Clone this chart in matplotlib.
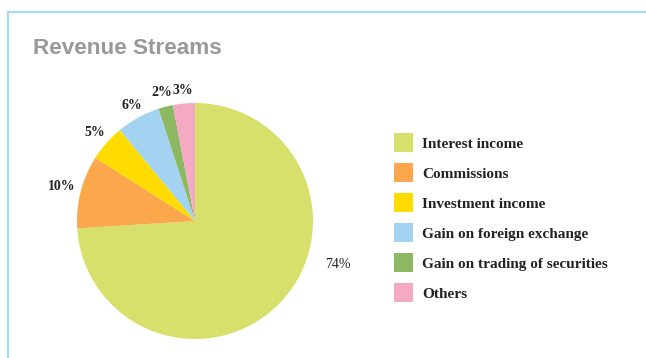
import numpy as np
import matplotlib.pyplot as plt
from matplotlib.lines import Line2D
from matplotlib.patches import Patch

# Revenue streams share (%)
streams = ['Interest income', 'Commissions', 'Investment income',
           'Gain on foreign exchange', 'Gain on trading of securities', 'Others']
shares = [74, 10, 5, 6, 2, 3]
colors = ['#D6E06A', '#FAA84B', '#FFDC00', '#A3D3F0', '#8BB861', '#F5AAC4']

fig = plt.figure(figsize=(6.46, 3.58), dpi=100)
W, H = 646, 358

# pie axes: square box, radius 1 in data units
L = 1.5
R_px = 118
S = 2 * L * R_px
cx, cy = 195, 221
ax = fig.add_axes([(cx - S / 2) / W, (H - cy - S / 2) / H, S / W, S / H])
wedges, _ = ax.pie(shares, colors=colors, startangle=90, counterclock=False,
                   radius=1, wedgeprops=dict(linewidth=0))
ax.set_xlim(-L, L); ax.set_ylim(-L, L)
ax.set_aspect('equal')
ax.axis('off')

# percentage labels outside the slices (big slice label sits off to the right)
label_r = [1.27, 1.17, 1.13, 1.12, 1.12, 1.11]
for i, (w, v) in enumerate(zip(wedges, shares)):
    ang = np.deg2rad((w.theta1 + w.theta2) / 2)
    weight = 'bold'
    if i == 0:
        ang = np.deg2rad(-17)
        weight = 'normal'
    r = label_r[i]
    ax.text(r * np.cos(ang), r * np.sin(ang), f'{v}%', ha='center', va='center',
            fontsize=10, fontfamily='Liberation Serif', fontweight=weight, color='#222222')

# title
fig.text(33 / W, 1 - 48 / H, 'Revenue Streams', fontsize=16.2, fontweight='bold',
         fontfamily='Liberation Sans', color='#999999', ha='left', va='center')

# legend
handles = [Patch(facecolor=c, edgecolor='none') for c in colors]
leg = fig.legend(handles, streams, loc='upper left',
                 bbox_to_anchor=(394 / W, 1 - 133 / H), frameon=False,
                 borderpad=0, borderaxespad=0, handlelength=1.25, handleheight=1.54,
                 labelspacing=0.72, handletextpad=0.6,
                 prop=dict(family='Liberation Serif', weight='bold', size=11))
for t in leg.get_texts():
    t.set_color('#222222')

# light blue frame (top and left edges)
border = '#A9D9F2'
fig.add_artist(Line2D([8 / W, 1], [1 - 12 / H, 1 - 12 / H], color=border, lw=1.6,
                      transform=fig.transFigure))
fig.add_artist(Line2D([8 / W, 8 / W], [0, 1 - 12 / H], color=border, lw=1.6,
                      transform=fig.transFigure))

fig.savefig('out.png', dpi=100)
